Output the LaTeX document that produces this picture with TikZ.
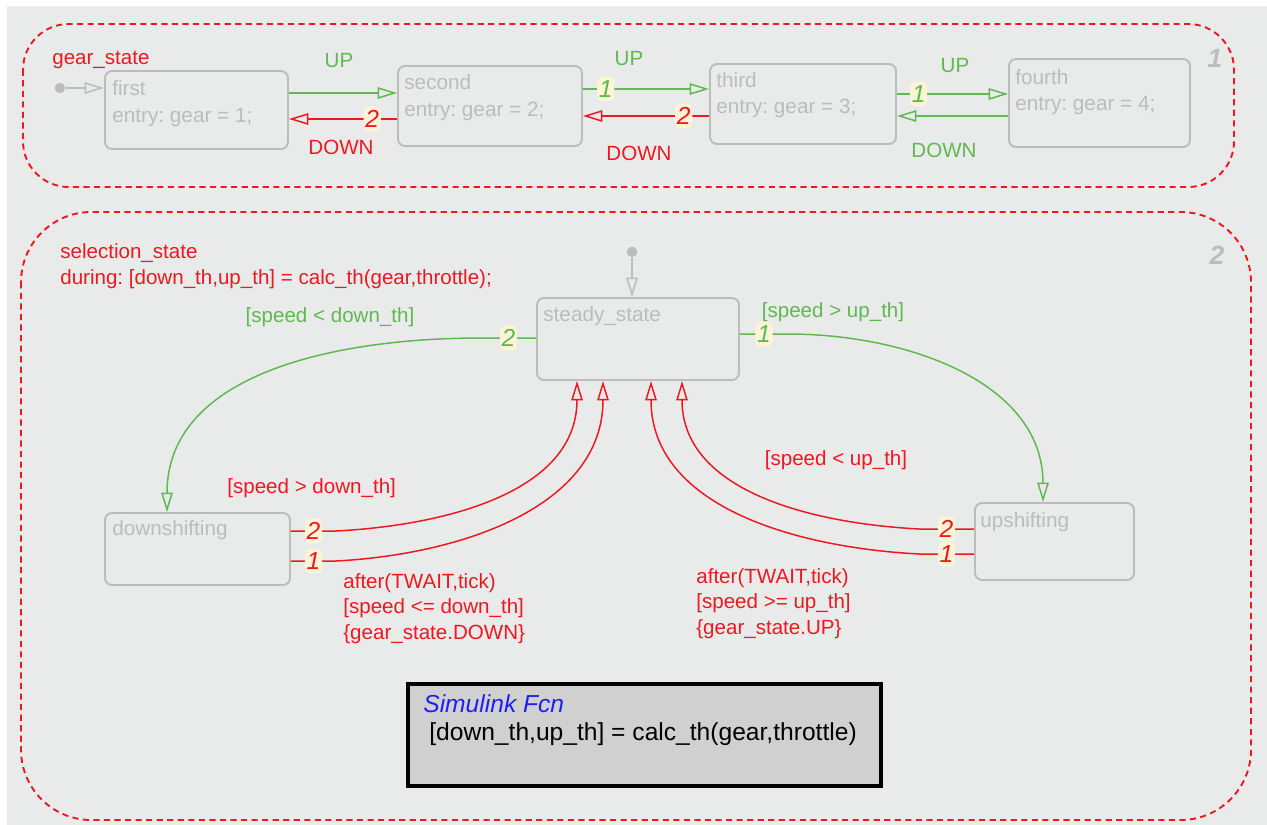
\documentclass[tikz,border=0pt]{standalone}
\usepackage{fontspec}
\setmainfont{Liberation Sans}
\usetikzlibrary{arrows.meta,fit}
\frenchspacing

\definecolor{sfred}{RGB}{238,24,32}
\definecolor{sfgreen}{RGB}{96,184,80}
\definecolor{sfgray}{RGB}{188,188,188}
\definecolor{sfback}{RGB}{233,235,235}
\definecolor{sfbadge}{RGB}{255,244,214}
\definecolor{sfblue}{RGB}{30,30,250}
\definecolor{fcnfill}{RGB}{208,208,208}

\tikzset{
  sfstate/.style={draw=sfgray, line width=1.1pt, rounded corners=4pt, inner sep=0pt},
  stxt/.style={text=sfgray, font=\fontsize{11.8}{15}\selectfont, anchor=base west, inner sep=0pt},
  lbl/.style={font=\fontsize{11.7}{14.5}\selectfont, inner sep=0pt},
  badge/.style={fill=sfbadge, rounded corners=3pt, inner sep=1pt, minimum height=14pt,
    font=\fontsize{14}{14}\selectfont\itshape},
  sftip/.style={-{Triangle[open,length=11pt,width=6.5pt]}},
  upedge/.style={sftip, color=sfgreen, line width=0.85pt},
  downedge/.style={sftip, color=sfred, line width=0.85pt},
  initdot/.style={circle, fill=sfgray, inner sep=0pt, minimum size=6pt},
  superstate/.style={draw=sfred, line width=1.1pt, dash pattern=on 3.5pt off 2.5pt},
  chartno/.style={text=sfgray, font=\fontsize{15}{15}\selectfont\bfseries\itshape}
}

\begin{document}
\begin{tikzpicture}[x=0.2mm, y=-0.2mm]
  \useasboundingbox (0,0) rectangle (1267,825);
  \fill[sfback] (7,6) rectangle (1267,825);

  % gear_state
  \draw[superstate, rounded corners=26pt] (23,24) rectangle (1234,187);
  \node[lbl, text=sfred, anchor=base west] at (52,64) {gear\_state};
  \node[chartno] at (1215,58) {1};

  \node[sfstate, fit={(105,71) (288,149)}] (first) {};
  \node[sfstate, fit={(398,66) (582,146)}] (second) {};
  \node[sfstate, fit={(710,64) (896,144)}] (third) {};
  \node[sfstate, fit={(1009,59) (1190,147)}] (fourth) {};
  \node[stxt] at (112,95) {first};
  \node[stxt] at (112,122) {entry: gear = 1;};
  \node[stxt] at (404,89) {second};
  \node[stxt] at (404,116) {entry: gear = 2;};
  \node[stxt] at (716,87) {third};
  \node[stxt] at (716,113) {entry: gear = 3;};
  \node[stxt] at (1015,84) {fourth};
  \node[stxt] at (1015,110) {entry: gear = 4;};

  \node[initdot] (init1) at (60,88) {};
  \draw[sftip, sfgray, line width=0.85pt] (init1) -- (first.west |- init1);

  \draw[upedge] (first.east |- 0,93) -- (second.west |- 0,93);
  \draw[downedge] (second.west |- 0,119) -- node[badge, pos=0.23] {2} (first.east |- 0,119);
  \draw[upedge] (second.east |- 0,89) -- node[badge, pos=0.18] {1} (third.west |- 0,89);
  \draw[downedge] (third.west |- 0,116) -- node[badge, pos=0.2] {2} (second.east |- 0,116);
  \draw[upedge] (third.east |- 0,94) -- node[badge, pos=0.195] {1} (fourth.west |- 0,94);
  \draw[upedge] (fourth.west |- 0,116) -- (third.east |- 0,116);

  \node[lbl, text=sfgreen, anchor=base] at (339,67) {UP};
  \node[lbl, text=sfred, anchor=base] at (341,154) {DOWN};
  \node[lbl, text=sfgreen, anchor=base] at (629,65) {UP};
  \node[lbl, text=sfred, anchor=base] at (639,160) {DOWN};
  \node[lbl, text=sfgreen, anchor=base] at (955,72) {UP};
  \node[lbl, text=sfgreen, anchor=base] at (944,157) {DOWN};

  % selection_state
  \draw[superstate, rounded corners=40pt] (21,212) rectangle (1251,820);
  \node[chartno] at (1217,255) {2};
  \node[lbl, text=sfred, anchor=base west] at (60,258) {selection\_state};
  \node[lbl, text=sfred, anchor=base west] at (60,284) {during: [down\_th,up\_th] = calc\_th(gear,throttle);};

  \node[sfstate, fit={(537,298) (739,380)}] (steady) {};
  \node[sfstate, fit={(105,513) (290,585)}] (downsh) {};
  \node[sfstate, fit={(975,503) (1134,580)}] (upsh) {};
  \node[stxt] at (543,321) {steady\_state};
  \node[stxt] at (112,535) {downshifting};
  \node[stxt] at (980,527) {upshifting};

  \node[initdot] (init2) at (632,252) {};
  \draw[sftip, sfgray, line width=0.85pt] (init2) -- (steady.north -| init2);

  \draw[upedge] (steady.west |- 0,338) -- node[badge] {2} ++(-55,0)
    to[out=180,in=90] (downsh.north -| 167,0);
  \draw[upedge] (steady.east |- 0,334) -- node[badge] {1} ++(48,0)
    to[out=0,in=90] (upsh.north -| 1043,0);

  \draw[downedge] (downsh.east |- 0,531) -- node[badge] {2} ++(45,0)
    to[out=3,in=-90] (steady.south -| 577,0);
  \draw[downedge] (downsh.east |- 0,561) -- node[badge] {1} ++(45,0)
    to[out=3,in=-90] (steady.south -| 603,0);
  \draw[downedge] (upsh.west |- 0,529) -- node[badge] {2} ++(-55,0)
    to[out=177,in=-90] (steady.south -| 682,0);
  \draw[downedge] (upsh.west |- 0,554) -- node[badge] {1} ++(-55,0)
    to[out=177,in=-90] (steady.south -| 651,0);

  \node[lbl, text=sfgreen, anchor=base] at (330,322) {[speed < down\_th]};
  \node[lbl, text=sfgreen, anchor=base] at (833,317) {[speed > up\_th]};
  \node[lbl, text=sfred, anchor=base west] at (227,493) {[speed > down\_th]};
  \node[lbl, text=sfred, anchor=base] at (836,465) {[speed < up\_th]};
  \node[lbl, text=sfred, align=left, anchor=north west] at (343,573)
    {after(TWAIT,tick)\\{}[speed <= down\_th]\\\{gear\_state.DOWN\}};
  \node[lbl, text=sfred, align=left, anchor=north west] at (696,568)
    {after(TWAIT,tick)\\{}[speed >= up\_th]\\\{gear\_state.UP\}};

  % Simulink function box
  \node[draw=black, line width=2.3pt, fill=fcnfill, inner sep=0pt, fit={(408,684) (881,786)}] (fcn) {};
  \node[font=\fontsize{14}{16}\selectfont\itshape, text=sfblue, anchor=base west, inner sep=0pt] at (423,712) {Simulink Fcn};
  \node[font=\fontsize{14}{16}\selectfont, anchor=base west, inner sep=0pt] at (429,740) {[down\_th,up\_th] = calc\_th(gear,throttle)};
\end{tikzpicture}
\end{document}
